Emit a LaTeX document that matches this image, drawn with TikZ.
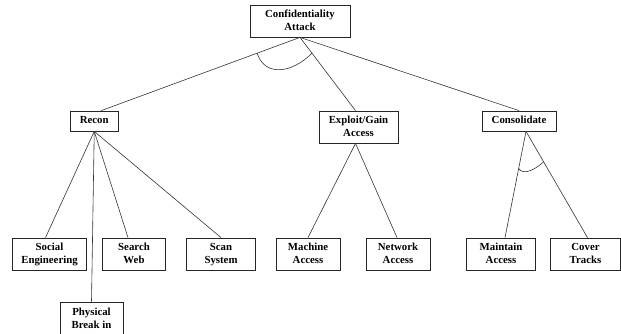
\documentclass[tikz,border=0pt]{standalone}
\usepackage{fontspec}
\setmainfont{Liberation Serif}
\usetikzlibrary{calc,positioning}
\begin{document}
\begin{tikzpicture}[x=1pt, y=-1pt, box/.style={draw=black!85, line width=0.8pt, font=\fontsize{10.8}{13}\selectfont\bfseries, align=center, inner sep=0pt, minimum height=32pt, text height=21.5pt, text depth=2pt}, one/.style={minimum height=20pt, text height=7.5pt, text depth=2pt}, link/.style={draw=black!80, line width=0.6pt}]
\useasboundingbox (0,0) rectangle (621,334);
% top and middle level
\node[box, minimum width=100pt] (attack) at (300,21) {Confidentiality\\Attack};
\node[box, one, minimum width=47.5pt] (recon) at (94.25,121) {Recon};
\node[box, minimum width=79pt] (exploit) at (358.5,127) {Exploit/Gain\\Access};
\node[box, one, minimum width=74pt] (consol) at (519,121) {Consolidate};
% leaves
\node[box, minimum width=73.5pt] (social) at (49.5,254) {Social\\Engineering};
\node[box, minimum width=63pt] (search) at (134,254) {Search\\Web};
\node[box, minimum width=68.5pt] (scan) at (221,254) {Scan\\System};
\node[box, minimum width=63pt, minimum height=34pt] (physical) at (91.5,319) {Physical\\Break in};
\node[box, minimum width=64pt] (machine) at (308,254) {Machine\\Access};
\node[box, minimum width=64pt] (network) at (398,254) {Network\\Access};
\node[box, minimum width=69pt] (maintain) at (501,254) {Maintain\\Access};
\node[box, minimum width=69.5pt] (cover) at (585.5,254) {Cover\\Tracks};
% connectors
\draw[link] (attack.south) -- ([xshift=7pt]recon.north);
\draw[link] (attack.south) -- ([xshift=-3pt]exploit.north);
\draw[link] (attack.south) -- (consol.north);
\foreach \leaf/\dx in {social/-4, physical/0, search/-6, scan/0}{\draw[link] (recon.south) -- ([xshift=\dx pt]\leaf.north);}
\foreach \leaf/\dx in {machine/0, network/-1}{\draw[link] ([xshift=-3pt]exploit.south) -- ([xshift=\dx pt]\leaf.north);}
\foreach \leaf/\dx in {maintain/4, cover/2}{\draw[link] ([xshift=7pt]consol.south) -- ([xshift=\dx pt]\leaf.north);}
% and-arcs
\coordinate (andA) at ($(attack.south)!0.216!([xshift=7pt]recon.north)$);
\coordinate (andB) at ($(attack.south)!0.216!([xshift=-3pt]exploit.north)$);
\draw[link] (andA) .. controls +(8,24) and +(-20,20) .. (andB);
\coordinate (andC) at ($([xshift=7pt]consol.south)!0.35!([xshift=4pt]maintain.north)$);
\coordinate (andD) at ($([xshift=7pt]consol.south)!0.286!([xshift=2pt]cover.north)$);
\draw[link] (andC) .. controls +(5,8) and +(-6,6) .. (andD);
\end{tikzpicture}
\end{document}
